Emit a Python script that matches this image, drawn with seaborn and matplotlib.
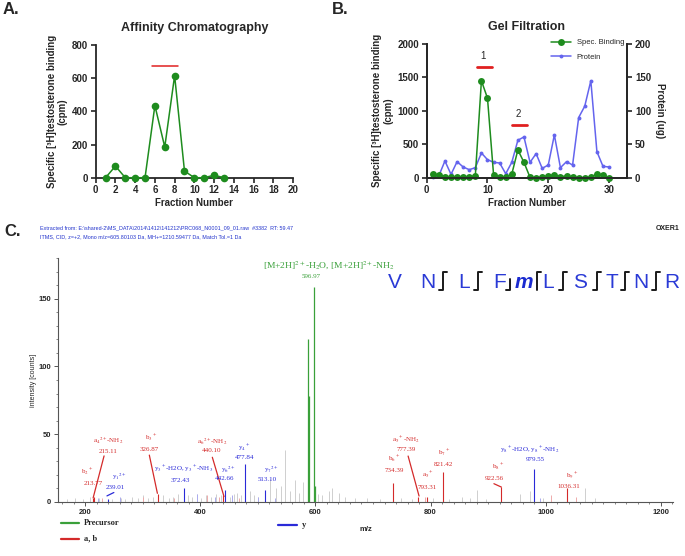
import matplotlib
matplotlib.use('Agg')
import matplotlib.pyplot as plt
from matplotlib.lines import Line2D
from matplotlib.ticker import MultipleLocator
import seaborn as sns
import pandas as pd

sns.set_style('ticks')
plt.rcParams['font.family'] = ['Liberation Sans', 'DejaVu Sans']
plt.rcParams['mathtext.fontset'] = 'stix'

# ----------------------------
# data
# ----------------------------
# A. affinity chromatography
fractions_a = list(range(1, 14))
binding_a = [0, 70, 0, 0, 0, 435, 185, 615, 40, 0, 0, 15, 0]
pool_a = (5.7, 8.3, 672)

# B. gel filtration
fractions_b = list(range(1, 31))
binding_b = [55, 40, 15, 5, 10, 10, 5, 30, 1450, 1190, 45, 15, 5, 55, 415, 230, 5, 0, 5, 30,
             40, 15, 25, 10, 0, 0, 10, 55, 40, 0]
protein_b = [1, 3, 25, 5, 24, 16, 12, 15, 37, 27, 23, 22, 6, 23, 56, 61, 23, 36, 14, 19,
             64, 15, 24, 19, 90, 107, 145, 39, 17, 16]
pools_b = [('1', 8.3, 10.7, 1650), ('2', 14.1, 16.5, 790)]

# C. MS/MS spectrum
prec_mz = [588.0, 589.5, 596.97, 599.0]
prec_int = [120, 78, 158.5, 12]
ab_mz = [213.77, 215.11, 326.87, 440.10, 734.39, 777.39, 793.31, 821.42, 922.56, 1036.31]
ab_int = [3, 4, 6, 5, 14, 4, 4, 22, 11, 10]
y_mz = [239.01, 372.43, 442.66, 477.84, 513.10, 979.55]
y_int = [2, 10, 9, 28, 9, 24]
pale_red_mz = [230, 300, 355, 412, 432, 468, 790, 1010, 1052]
pale_red_int = [3, 4, 3, 5, 4, 3, 4, 5, 4]
pale_blue_mz = [222, 260, 395, 425, 455, 500, 530, 990]
pale_blue_int = [3, 4, 6, 4, 5, 4, 3, 3]
noise_mz = [168, 182, 196, 208, 224, 246, 262, 270, 281, 292, 300, 309, 318, 336, 345,
            352, 361, 378, 386, 395, 402, 410, 418, 428, 436, 452, 458, 463, 470, 486,
            494, 500, 522, 531, 540, 547, 556, 565, 572, 578, 604, 612, 624, 628, 641,
            652, 668, 690, 712, 748, 768, 805, 832, 855, 868, 880, 897, 955, 973, 995,
            1068, 1085]
noise_int = [2, 3, 2, 4, 3, 2, 3, 2, 4, 3, 5, 3, 4, 5, 3,
             4, 6, 5, 4, 6, 3, 5, 4, 6, 5, 4, 6, 7, 5, 8,
             5, 4, 17, 10, 12, 38, 8, 16, 7, 15, 6, 5, 8, 10, 7,
             4, 3, 3, 2, 3, 2, 3, 2, 4, 3, 9, 2, 6, 8, 3,
             10, 3]

sequence = ['V', 'N', 'L', 'F', 'm', 'L', 'S', 'T', 'N', 'R']
# fragment marks between residues: 'both', 'b' (bottom-left), 't' (top-right)
frag_marks = [None, 'both', 'both', 'b', 't', 'both', 'both', 'both', 'both']

GREEN = '#1e8c1e'
BLUE = '#6464ee'
RED = '#e02020'
C_GREEN = '#3aa03a'
C_RED = '#d42a2a'
C_BLUE = '#2a2ad8'
SEQ_BLUE = '#2a3ad6'

W, H = 685, 556


def fx(px):
    return px / W


def fy(py):
    return 1 - py / H


fig = plt.figure(figsize=(6.85, 5.56), dpi=100)

# ----------------------------
# A
# ----------------------------
axA = fig.add_axes([fx(95.7), fy(177.7), (293 - 95.7) / W, (177.7 - 45) / H])
dfA = pd.DataFrame({'fraction': fractions_a, 'binding': binding_a})
sns.lineplot(data=dfA, x='fraction', y='binding', ax=axA, color=GREEN, marker='o',
             markersize=5.5, markeredgewidth=0, linewidth=1.1, clip_on=False, zorder=3)
axA.plot([pool_a[0], pool_a[1]], [pool_a[2], pool_a[2]], color=RED, lw=1.1)
axA.set_xlim(0, 20)
axA.set_ylim(0, 800)
axA.set_xticks(range(0, 21, 2))
axA.set_yticks(range(0, 801, 200))
axA.set_title('Affinity Chromatography', fontsize=9, fontweight='bold', pad=10)
axA.set_xlabel('Fraction Number', fontsize=7, fontweight='bold', labelpad=2)
axA.set_ylabel('Specific [³H]testosterone binding\n(cpm)', fontsize=7, fontweight='bold',
               labelpad=3, linespacing=1.1)
sns.despine(ax=axA)

# ----------------------------
# B
# ----------------------------
axB = fig.add_axes([fx(426.7), fy(177.7), (627.3 - 426.7) / W, (177.7 - 44) / H])
axB2 = axB.twinx()
dfB = pd.DataFrame({'fraction': fractions_b, 'binding': binding_b, 'protein': protein_b})
sns.lineplot(data=dfB, x='fraction', y='protein', ax=axB2, color=BLUE, marker='o',
             markersize=2.8, markeredgewidth=0, linewidth=1.1, clip_on=False)
sns.lineplot(data=dfB, x='fraction', y='binding', ax=axB, color=GREEN, marker='o',
             markersize=5, markeredgewidth=0, linewidth=1.1, clip_on=False)
axB.set_zorder(axB2.get_zorder() + 1)
axB.patch.set_visible(False)
for name, x0, x1, yv in pools_b:
    axB.plot([x0, x1], [yv, yv], color=RED, lw=2)
    axB.text((x0 + x1) / 2 - 0.2, yv + 90, name, ha='center', va='bottom', fontsize=7)
axB.set_xlim(0, 33)
axB.set_ylim(0, 2000)
axB2.set_ylim(0, 200)
axB.set_xticks([0, 10, 20, 30])
axB.set_yticks(range(0, 2001, 500))
axB2.set_yticks(range(0, 201, 50))
axB.set_title('Gel Filtration', fontsize=9, fontweight='bold', pad=10)
axB.set_xlabel('Fraction Number', fontsize=7, fontweight='bold', labelpad=2)
axB.set_ylabel('Specific [³H]testosterone binding\n(cpm)', fontsize=7, fontweight='bold',
               labelpad=3, linespacing=1.1)
axB2.set_ylabel('Protein (ug)', fontsize=7, fontweight='bold', rotation=270, labelpad=10)
for a in (axB, axB2):
    a.spines['top'].set_visible(False)
handles = [Line2D([], [], color=GREEN, marker='o', markersize=5, markeredgewidth=0, lw=1.1),
           Line2D([], [], color=BLUE, marker='o', markersize=2.8, markeredgewidth=0, lw=1.1)]
axB.legend(handles, ['Spec. Binding', 'Protein'], loc='upper right', bbox_to_anchor=(1.0, 1.06),
           frameon=False, fontsize=5.5, handlelength=2.6, handletextpad=0.8, labelspacing=0.9,
           borderaxespad=0)

for a in (axA, axB, axB2):
    for s in a.spines.values():
        s.set_linewidth(1.3)
    a.tick_params(width=1.2, length=3.5, labelsize=7, pad=2)
    for lbl in a.get_xticklabels() + a.get_yticklabels():
        lbl.set_fontweight('bold')

# ----------------------------
# C
# ----------------------------
axC = fig.add_axes([fx(58), fy(502), (673 - 58) / W, (502 - 258) / H])
axC.vlines(noise_mz, 0, noise_int, colors='#cfcfcf', lw=0.7)
axC.vlines(pale_red_mz, 0, pale_red_int, colors='#eeaaaa', lw=0.7)
axC.vlines(pale_blue_mz, 0, pale_blue_int, colors='#aaaaee', lw=0.7)
axC.vlines(ab_mz, 0, ab_int, colors=C_RED, lw=0.8)
axC.vlines(y_mz, 0, y_int, colors=C_BLUE, lw=0.8)
axC.vlines(prec_mz, 0, prec_int, colors=C_GREEN, lw=0.9)
axC.set_xlim(153, 1221)
axC.set_ylim(0, 180)
axC.set_xticks(range(200, 1201, 200))
axC.set_yticks([0, 50, 100, 150])
axC.xaxis.set_minor_locator(MultipleLocator(20))
axC.yaxis.set_minor_locator(MultipleLocator(10))
for s in ('top', 'right'):
    axC.spines[s].set_visible(False)
for s in ('left', 'bottom'):
    axC.spines[s].set_linewidth(0.8)
    axC.spines[s].set_color('#555555')
axC.tick_params(which='major', length=3, width=0.7, labelsize=5.5, pad=2, color='#555555')
axC.tick_params(which='minor', length=1.5, width=0.5, color='#555555')
for lbl in axC.get_xticklabels() + axC.get_yticklabels():
    lbl.set_fontweight('bold')
axC.set_xlabel('m/z', fontsize=5.5, fontweight='bold', labelpad=7)
axC.set_ylabel('intensity [counts]', fontsize=5, labelpad=1)

# peak annotations: (ion, mass text, x_ion, y_ion, x_mass, y_mass, color, leader)
ann = [
    ('a$_4$$^{2+}$-NH$_2$', '215.11', 240, 45, 240, 37.6, C_RED, (233, 34, 214, 3)),
    ('b$_2$$^+$', '213.77', 203, 22.3, 214, 13.3, C_RED, None),
    ('y$_1$$^{2+}$', '239.01', 259.6, 18.6, 252, 10.5, C_BLUE, (238, 4.5, 250, 7)),
    ('b$_3$$^+$', '326.87', 314.6, 47, 311.6, 38.8, C_RED, (311.6, 34.6, 325.6, 6.4)),
    ('y$_3$$^+$-H2O, y$_3$$^+$-NH$_3$', '372.43', 370.7, 24.8, 365, 16.2, C_BLUE, None),
    ('a$_6$$^{2+}$-NH$_2$', '440.10', 420, 44.4, 420, 37.8, C_RED, (421, 33, 441.3, 4)),
    ('y$_6$$^{2+}$', '442.66', 449, 24, 443, 17.4, C_BLUE, None),
    ('y$_4$$^+$', '477.84', 476.6, 40.3, 476.6, 33, C_BLUE, None),
    ('y$_7$$^{2+}$', '513.10', 524, 23.6, 517, 16.7, C_BLUE, None),
    ('a$_5$$^+$-NH$_2$', '777.39', 757, 45.7, 757, 38.8, C_RED, (761, 33.9, 780, 4.4)),
    ('b$_6$$^+$', '734.39', 737, 31.5, 737, 23, C_RED, None),
    ('a$_5$$^+$', '793.31', 795, 20, 795, 10.8, C_RED, None),
    ('b$_7$$^+$', '821.42', 823, 35.9, 823, 27.8, C_RED, None),
    ('b$_8$$^+$', '922.56', 917.6, 26, 910.6, 17.4, C_RED, (910, 13.5, 923, 11)),
    ('y$_8$$^+$-H2O, y$_8$$^+$-NH$_2$', '979.55', 972.6, 38.3, 982, 31.5, C_BLUE, None),
    ('b$_9$$^+$', '1036.31', 1046.6, 20, 1040.8, 11.3, C_RED, None),
    ('[M+2H]$^{2+}$-H$_2$O, [M+2H]$^{2+}$-NH$_2$', '596.97', 623, 175, 592, 166.5, C_GREEN, None),
]
serif = ['Liberation Serif', 'DejaVu Serif']
for ion, mass, xi, yi, xm, ym, col, lead in ann:
    fs = 6.8 if ion.startswith('[M') else 5
    axC.text(xi, yi, ion, ha='center', va='center', fontsize=fs, color=col, family=serif)
    axC.text(xm, ym, mass, ha='center', va='center', fontsize=5, color=col, family=serif)
    if lead is not None:
        axC.plot([lead[0], lead[2]], [lead[1], lead[3]], color=col, lw=0.9)

# header
fig.text(fx(40), fy(228), r'Extracted from: E:\shared-2\MS_DATA\2014\1412\141212\PRC068_N0001_09_01.raw  #3382  RT: 59.47',
         fontsize=3.9, color='#2233cc', va='center')
fig.text(fx(40), fy(237), 'ITMS, CID, z=+2, Mono m/z=605.80103 Da, MH+=1210.59477 Da, Match Tol.=1 Da',
         fontsize=3.9, color='#2233cc', va='center')
fig.text(fx(680), fy(228), 'OXER1', fontsize=5, fontweight='bold', ha='right', va='center', color='#222222')

# peptide sequence with fragment marks
seq_x = [395, 427.5, 464, 500, 524, 548, 580, 612, 640.5, 671.5]
mark_x = [None, 443, 478, 510, 537, 563, 597, 625, 656]
for i, aa in enumerate(sequence):
    if aa == 'm':
        fig.text(fx(seq_x[i]), fy(288), aa, fontsize=15, color='#1a2ad0', fontweight='bold',
                 style='italic', ha='center', va='baseline')
    else:
        fig.text(fx(seq_x[i]), fy(288), aa, fontsize=15, color=SEQ_BLUE, ha='center', va='baseline')
for i, mk in enumerate(frag_marks):
    if mk is None:
        continue
    x = mark_x[i]
    if mk == 'both':
        xs, ys = [x - 4, x, x, x + 4], [290, 290, 272, 272]
    elif mk == 'b':
        xs, ys = [x - 4, x, x], [290, 290, 279]
    else:
        xs, ys = [x, x, x + 4], [290, 272, 272]
    fig.lines.append(Line2D([fx(v) for v in xs], [fy(v) for v in ys], transform=fig.transFigure,
                            color='#1a1a1a', lw=1.4))

# bottom legend
for (x0, x1, yv, col, lab, tx) in [(61, 79, 523, C_GREEN, 'Precursor', 84),
                                   (61, 79, 538.6, C_RED, 'a, b', 84),
                                   (278, 297, 525.4, C_BLUE, 'y', 302)]:
    fig.lines.append(Line2D([fx(x0), fx(x1)], [fy(yv), fy(yv)], transform=fig.transFigure,
                            color=col, lw=1.6))
    fig.text(fx(tx), fy(yv), lab, fontsize=6, fontweight='bold', va='center', family=serif)

# panel letters
fig.text(fx(3), fy(10), 'A.', fontsize=12, fontweight='bold', va='center')
fig.text(fx(332), fy(10), 'B.', fontsize=12, fontweight='bold', va='center')
fig.text(fx(4), fy(231), 'C.', fontsize=12, fontweight='bold', va='center')

fig.savefig('out.png', dpi=100)
plt.close(fig)
